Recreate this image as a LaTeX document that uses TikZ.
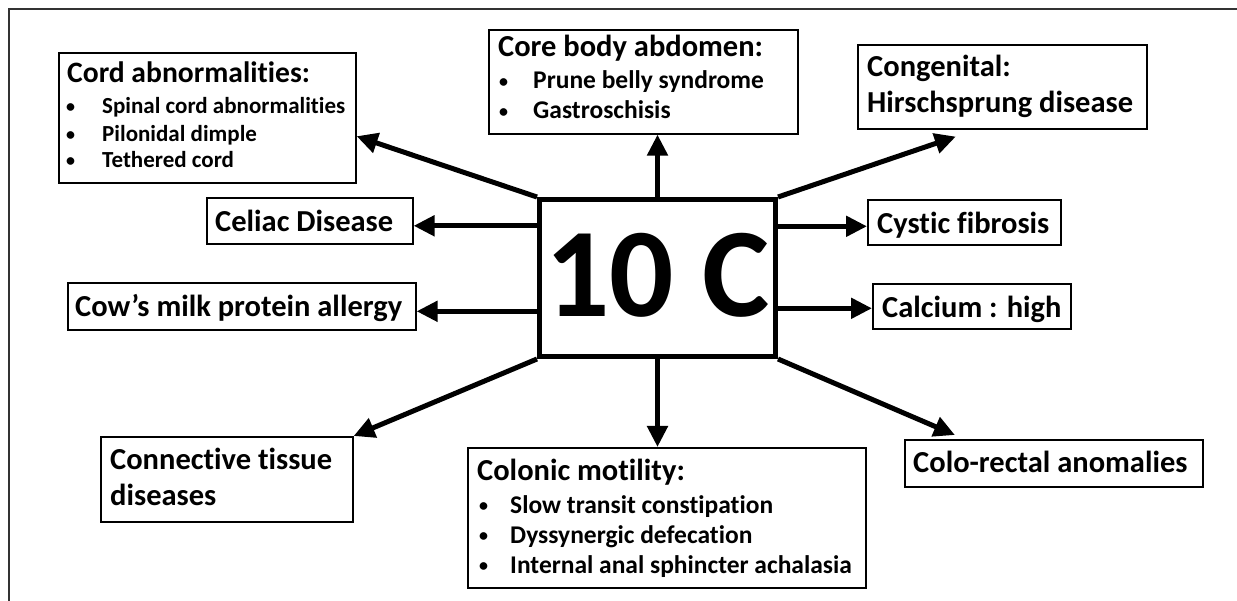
\documentclass[tikz,border=0pt]{standalone}
\usepackage{fontspec}
\setmainfont{Carlito}[Ligatures=NoCommon]
\usetikzlibrary{arrows.meta,calc}
\newcommand{\bul}[1]{\makebox[#1][l]{\raisebox{1.5pt}{\fontsize{18}{18}\selectfont •}}}
\begin{document}
\begin{tikzpicture}[x=1pt,y=-1pt,
  box/.style={draw=black, line width=1.6pt, rectangle, inner sep=0pt, anchor=north west},
  centerbox/.style={draw=black, line width=5pt, rectangle, inner sep=0pt, anchor=north west},
  arr/.style={line width=5pt, -{Triangle[length=21pt,width=20pt]}},
  tt/.style={anchor=base west, inner sep=0pt, font=\fontsize{30.5}{30.5}\selectfont\bfseries},
  bl/.style={anchor=base west, inner sep=0pt, font=\fontsize{25.5}{25.5}\selectfont\bfseries},
  ttsmall/.style={anchor=base west, inner sep=0pt, font=\fontsize{29.6}{29.6}\selectfont\bfseries},
  blsmall/.style={anchor=base west, inner sep=0pt, font=\fontsize{23}{23}\selectfont\bfseries},
  big/.style={anchor=base, inner sep=0pt, font=\fontsize{127}{127}\selectfont\bfseries},
  frame/.style={draw=black!80, line width=1.5pt}
]
\useasboundingbox (0,0) rectangle (1237,601);
\coordinate (ftl) at (9,9);
\coordinate (ftr) at (1237,9);
\coordinate (fbl) at (9,601);
\draw[frame] (ftr) -- (ftl) -- (fbl);

% center
\node[centerbox, minimum width=236pt, minimum height=157pt] (c) at (537,197) {};
\node[big] (cT) at ($(c.north)+(0,120)$) {10 C};

% cord
\node[box, minimum width=297pt, minimum height=130pt] (cord) at (58,52) {};
\node[ttsmall] (cord1) at ($(cord.north west)+(9,31)$) {Cord abnormalities:};
\node[blsmall] (cord2) at ($(cord.north west)+(8,62)$) {\bul{36pt}Spinal cord abnormalities};
\node[blsmall] (cord3) at ($(cord.north west)+(8,90)$) {\bul{36pt}Pilonidal dimple};
\node[blsmall] (cord4) at ($(cord.north west)+(8,116)$) {\bul{36pt}Tethered cord};

% core
\node[box, minimum width=309pt, minimum height=104pt] (core) at (488,29) {};
\node[tt] (core1) at ($(core.north west)+(10,28)$) {Core body abdomen:};
\node[bl] (core2) at ($(core.north west)+(11,60)$) {\bul{34pt}Prune belly syndrome};
\node[bl] (core3) at ($(core.north west)+(11,90)$) {\bul{34pt}Gastroschisis};

% congenital
\node[box, minimum width=289pt, minimum height=84pt] (cong) at (857,44) {};
\node[tt] (cong1) at ($(cong.north west)+(10,33)$) {Congenital:};
\node[tt] (cong2) at ($(cong.north west)+(10,69)$) {Hirschsprung disease};

% celiac
\node[box, minimum width=206pt, minimum height=46pt] (celiac) at (206,197) {};
\node[tt] (celiacT) at ($(celiac.north west)+(9,35)$) {Celiac Disease};

% cow
\node[box, minimum width=348pt, minimum height=47pt] (cow) at (67,282) {};
\node[tt] (cowT) at ($(cow.north west)+(8,35)$) {Cow’s milk protein allergy};

% cystic
\node[box, minimum width=193pt, minimum height=45pt] (cystic) at (867,199) {};
\node[tt] (cysticT) at ($(cystic.north west)+(10,35)$) {Cystic fibrosis};

% calcium
\node[box, minimum width=198pt, minimum height=45pt] (calcium) at (872,283) {};
\node[tt] (calciumT) at ($(calcium.north west)+(10,35)$) {Calcium : high};

% connective
\node[box, minimum width=252pt, minimum height=85pt] (conn) at (100,436) {};
\node[tt] (conn1) at ($(conn.north west)+(10,33)$) {Connective tissue};
\node[tt] (conn2) at ($(conn.north west)+(10,69)$) {diseases};

% colonic
\node[box, minimum width=398pt, minimum height=140pt] (colon) at (467,447) {};
\node[tt] (colon1) at ($(colon.north west)+(10,33)$) {Colonic motility:};
\node[bl] (colon2) at ($(colon.north west)+(12,66)$) {\bul{31pt}Slow transit constipation};
\node[bl] (colon3) at ($(colon.north west)+(12,96)$) {\bul{31pt}Dyssynergic defecation};
\node[bl] (colon4) at ($(colon.north west)+(12,126)$) {\bul{31pt}Internal anal sphincter achalasia};

% colo-rectal
\node[box, minimum width=298pt, minimum height=47pt] (colo) at (904,439) {};
\node[tt] (coloT) at ($(colo.north west)+(9,33)$) {Colo-rectal anomalies};

% arrow end coordinates
\coordinate (cordA) at ($(cord.south east)!0.36!(cord.north east)$);
\coordinate (congA) at ($(cong.south west)!0.34!(cong.south east)+(0,7)$);
\coordinate (celiacA) at ($(celiac.east)+(0,5)$);
\coordinate (cowA) at ($(cow.east)+(0,5)$);
\coordinate (cysticA) at ($(cystic.west)+(0,4)$);
\coordinate (calciumA) at ($(calcium.west)+(0,2)$);
\coordinate (coloA) at ($(colo.north west)!0.17!(colo.north east)+(0,-4)$);

\draw[arr] (c.north west) -- (cordA);
\draw[arr] (c.north) -- (c.north |- core.south);
\draw[arr] (c.north east) -- (congA);
\draw[arr] (c.west |- celiacA) -- (celiacA);
\draw[arr] (c.west |- cowA) -- (cowA);
\draw[arr] (c.east |- cysticA) -- (cysticA);
\draw[arr] (c.east |- calciumA) -- (calciumA);
\draw[arr] (c.south west) -- (conn.north east);
\draw[arr] (c.south) -- (c.south |- colon.north);
\draw[arr] (c.south east) -- (coloA);
\end{tikzpicture}
\end{document}
